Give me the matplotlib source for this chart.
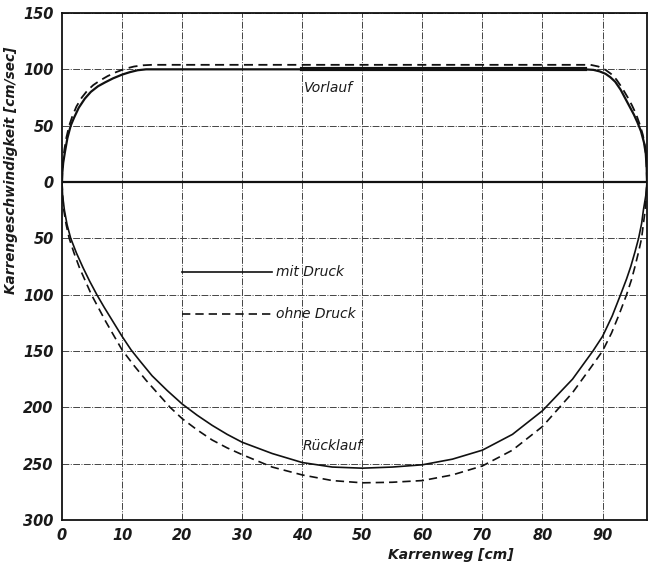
#!/usr/bin/env python3
import numpy as np
import matplotlib
matplotlib.use("Agg")
import matplotlib.pyplot as plt
from matplotlib.ticker import FuncFormatter

# Vorlauf (forward stroke), positive speed
vor_mit_x = [0, 0.05, 0.2, 0.5, 0.9, 1.45, 2.0, 2.8, 3.8, 4.8, 6.0, 7.2, 8.5, 10, 11.3, 12.6, 14, 87, 88.5, 89.5, 90.5, 91.3, 92.1, 93, 93.7, 94.4, 95.2, 95.8, 96.4, 96.9, 97.2, 97.35, 97.4]
vor_mit_y = [0, 8, 17, 27, 39, 50, 57, 66, 74, 80, 85, 88.5, 92, 95.3, 97.5, 99.2, 100, 100, 99.5, 98.2, 96, 93, 89, 82, 75, 68, 60, 53, 45, 35, 25, 12, 0]
vor_ohne_x = [0, 0.05, 0.15, 0.4, 0.75, 1.2, 1.7, 2.4, 3.3, 4.2, 5.2, 6.3, 7.6, 9, 10.5, 12, 13.5, 15, 88, 89.3, 90.5, 91.4, 92.3, 93.2, 94.2, 94.9, 95.6, 96.2, 96.7, 97.1, 97.3, 97.4]
vor_ohne_y = [0, 9, 18, 29, 40, 50, 58, 67, 75, 81, 86, 90, 94, 97.5, 100.5, 102.5, 103.6, 104, 104, 102.5, 99.5, 96, 91, 84, 75, 68, 60, 51, 42, 31, 18, 0]

# Rücklauf (return stroke), negative speed
rueck_mit_x = [0, 0.1, 0.4, 0.85, 1.45, 2.4, 3.5, 4.6, 5.8, 7, 8.5, 10, 11.5, 13, 15, 17.5, 20, 22.5, 25, 27.5, 30, 35, 40, 45, 50, 55, 60, 65, 70, 75, 80, 85, 88.4, 90, 91.6, 93, 94, 94.7, 95.4, 96, 96.5, 96.8, 97.2, 97.4]
rueck_mit_y = [0, -12, -25, -38, -50, -63, -76, -88, -100, -111, -124, -137, -149, -159, -172, -185, -197, -207, -216, -224, -231, -241, -249, -253, -254, -253, -251, -246, -238, -224, -203, -175, -150, -137, -119, -100, -86, -75, -62, -50, -37, -25, -12, 0]
rueck_ohne_x = [0, 0.1, 0.3, 0.7, 1.2, 2.0, 2.9, 3.9, 4.9, 6, 7.3, 8.7, 10, 12, 14, 16, 18, 20, 22.5, 25, 27.5, 30, 35, 40, 45, 50, 55, 60, 65, 70, 75, 80, 85, 88, 90, 91.5, 92.8, 94, 94.8, 95.4, 96, 96.5, 96.8, 97.1, 97.4]
rueck_ohne_y = [0, -12, -25, -38, -50, -63, -76, -88, -100, -111, -124, -137, -149, -163, -176, -188, -200, -210, -220, -229, -236, -242, -253, -260, -265, -267, -266.5, -265, -260, -252, -238, -217, -187, -165, -150, -134, -117, -100, -87, -75, -62, -50, -37, -25, 0]

xticks = [0, 10, 20, 30, 40, 50, 60, 70, 80, 90]
yticks = [150, 100, 50, 0, -50, -100, -150, -200, -250, -300]

ink = '#1a1a1a'

fig = plt.figure(figsize=(6.55, 5.64), dpi=100)
ax = fig.add_axes([62/655, 1-520/564, 585/655, 507/564])

gridstyle = dict(color='#444444', lw=0.7, linestyle=(0, (7, 1.5, 1, 1.5)))
for xv in xticks[1:]:
    ax.axvline(xv, **gridstyle)
for yv in yticks:
    if yv != 0:
        ax.axhline(yv, **gridstyle)
ax.axhline(0, color='#111111', lw=1.6)

ax.plot(vor_mit_x, vor_mit_y, color='#111111', lw=1.6)
ax.plot(vor_ohne_x, vor_ohne_y, color='#111111', lw=1.3, dashes=(5, 3))
ax.plot(rueck_mit_x, rueck_mit_y, color='#111111', lw=1.2)
ax.plot(rueck_ohne_x, rueck_ohne_y, color='#111111', lw=1.2, dashes=(5, 3))

# thick part of the forward stroke
ax.plot([40, 87], [100, 100], color='#111111', lw=3)

# legend drawn inside the grid
ax.plot([20, 35], [-79.5, -79.5], color='#111111', lw=1.2)
ax.plot([20, 35.3], [-117, -117], color='#111111', lw=1.2, dashes=(5, 3))
ax.text(35.7, -79.5, 'mit Druck', va='center', ha='left', fontstyle='italic', fontsize=10, color=ink)
ax.text(35.7, -117, 'ohne Druck', va='center', ha='left', fontstyle='italic', fontsize=10, color=ink)

ax.text(40.2, 83, 'Vorlauf', va='center', ha='left', fontstyle='italic', fontsize=10, color=ink)
ax.text(40, -234, 'Rücklauf', va='center', ha='left', fontstyle='italic', fontsize=10, color=ink)

ax.set_xlim(0, 97.4)
ax.set_ylim(-300, 150)
ax.set_xticks(xticks)
ax.set_yticks(yticks)
ax.yaxis.set_major_formatter(FuncFormatter(lambda v, p: f"{abs(int(v))}"))
ax.tick_params(length=0, pad=6)
for lab in ax.get_xticklabels() + ax.get_yticklabels():
    lab.set_fontstyle('italic')
    lab.set_fontweight('bold')
    lab.set_fontsize(10.5)
    lab.set_color(ink)

for s in ax.spines.values():
    s.set_linewidth(1.3)
    s.set_color('#111111')

ax.set_xlabel('Karrenweg [cm]', fontstyle='italic', fontweight='bold', fontsize=10, color=ink)
ax.xaxis.set_label_coords(0.665, -0.055)
ax.set_ylabel('Karrengeschwindigkeit [cm/sec]', fontstyle='italic', fontweight='bold', fontsize=9.8, color=ink)
ax.yaxis.set_label_coords(-0.075, 0.69)

fig.savefig('out.png', dpi=100)
